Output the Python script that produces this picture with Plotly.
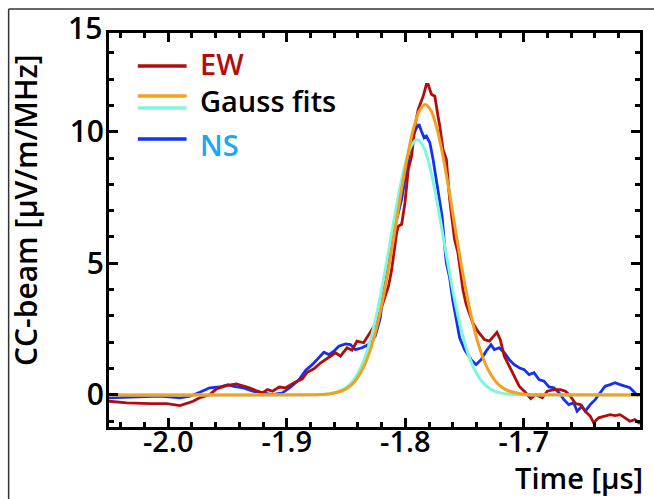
import plotly.graph_objects as go

# --- measured CC-beam traces (time in microseconds, amplitude in uV/m/MHz) ---
ns_time = [-2.0502, -2.0292, -2.0069, -1.9901, -1.9817, -1.9734, -1.9650, -1.9566,
           -1.9497, -1.9455, -1.9371, -1.9287, -1.9204, -1.9120, -1.9036, -1.8966,
           -1.8896, -1.8840, -1.8785, -1.8729, -1.8687, -1.8645, -1.8603, -1.8561,
           -1.8505, -1.8463, -1.8421, -1.8366, -1.8310, -1.8254, -1.8212, -1.8157,
           -1.8086, -1.8031, -1.7975, -1.7947, -1.7905, -1.7885, -1.7864, -1.7841,
           -1.7822, -1.7793, -1.7766, -1.7738, -1.7709, -1.7690, -1.7668, -1.7654,
           -1.7626, -1.7598, -1.7570, -1.7542, -1.7500, -1.7445, -1.7403, -1.7361,
           -1.7319, -1.7277, -1.7249, -1.7207, -1.7165, -1.7123, -1.7081, -1.7039,
           -1.6997, -1.6956, -1.6914, -1.6872, -1.6830, -1.6788, -1.6746, -1.6704,
           -1.6662, -1.6621, -1.6579, -1.6551, -1.6509, -1.6482, -1.6440, -1.6398,
           -1.6356, -1.6314, -1.6272, -1.6230, -1.6188, -1.6147, -1.6105, -1.6076,
           -1.6034]
ns_amp = [-0.11, -0.08, -0.05, -0.11, -0.05, 0.10, 0.27, 0.30,
          0.39, 0.33, 0.27, 0.14, 0.08, 0.01, 0.08, 0.30,
          0.58, 0.94, 1.15, 1.41, 1.62, 1.53, 1.66, 1.85,
          1.94, 1.91, 1.72, 1.79, 1.91, 2.23, 2.90, 4.85,
          6.41, 7.43, 8.95, 9.71, 10.15, 10.28, 10.02, 9.77,
          9.83, 9.58, 8.95, 8.19, 7.30, 6.79, 5.65, 5.02,
          4.45, 3.55, 2.86, 2.17, 1.72, 1.34, 1.15, 1.34,
          1.66, 1.91, 1.72, 1.79, 1.60, 1.34, 1.15, 1.03,
          0.96, 0.77, 0.84, 0.58, 0.52, 0.30, 0.27, 0.08,
          -0.18, -0.37, -0.30, -0.62, -0.43, -0.62, -0.37, -0.18,
          0.08, 0.33, 0.39, 0.46, 0.39, 0.33, 0.27, 0.14,
          -0.05]

ew_time = [-2.0502, -2.0348, -2.0152, -2.0013, -1.9901, -1.9845, -1.9790, -1.9734,
           -1.9650, -1.9594, -1.9510, -1.9426, -1.9371, -1.9315, -1.9259, -1.9204,
           -1.9162, -1.9120, -1.9064, -1.9008, -1.8938, -1.8869, -1.8827, -1.8771,
           -1.8714, -1.8645, -1.8589, -1.8547, -1.8492, -1.8450, -1.8408, -1.8352,
           -1.8296, -1.8254, -1.8198, -1.8142, -1.8115, -1.8073, -1.8059, -1.8031,
           -1.8003, -1.7975, -1.7947, -1.7919, -1.7891, -1.7849, -1.7822, -1.7807,
           -1.7780, -1.7751, -1.7724, -1.7709, -1.7682, -1.7654, -1.7626, -1.7598,
           -1.7585, -1.7556, -1.7514, -1.7487, -1.7431, -1.7389, -1.7332, -1.7291,
           -1.7249, -1.7227, -1.7199, -1.7165, -1.7123, -1.7081, -1.7039, -1.6984,
           -1.6942, -1.6900, -1.6844, -1.6802, -1.6746, -1.6691, -1.6649, -1.6607,
           -1.6565, -1.6523, -1.6482, -1.6440, -1.6411, -1.6369, -1.6327, -1.6272,
           -1.6230, -1.6188, -1.6147, -1.6105, -1.6063, -1.6021]
ew_amp = [-0.24, -0.30, -0.33, -0.33, -0.41, -0.33, -0.24, -0.11,
          0.01, 0.23, 0.35, 0.42, 0.35, 0.27, 0.16, 0.08,
          0.20, 0.14, 0.30, 0.27, 0.46, 0.61, 0.86, 0.99,
          1.22, 1.44, 1.60, 1.47, 1.79, 1.70, 2.04, 1.98,
          2.36, 2.67, 3.37, 4.13, 4.76, 6.16, 6.41, 6.48,
          7.30, 8.57, 9.07, 10.21, 10.85, 11.35, 11.80, 11.80,
          11.42, 11.35, 10.59, 10.21, 9.33, 8.95, 7.43, 6.29,
          5.91, 5.40, 4.00, 3.45, 2.74, 2.42, 2.10, 2.04,
          2.29, 2.38, 2.10, 1.47, 1.09, 0.71, 0.33, 0.08,
          -0.14, 0.01, -0.11, 0.14, 0.20, 0.20, 0.14, -0.05,
          -0.33, -0.37, -0.62, -0.81, -1.06, -0.87, -0.81, -0.75,
          -0.79, -0.75, -0.87, -1.00, -0.94, -1.09]

# --- Gaussian fit curves, sampled ---
ew_fit_time = [-2.05, -1.95, -1.8832, -1.8732, -1.8632, -1.8532, -1.8482, -1.8432,
               -1.8382, -1.8332, -1.8282, -1.8232, -1.8182, -1.8132, -1.8082, -1.8032,
               -1.7982, -1.7932, -1.7882, -1.7832, -1.7782, -1.7732, -1.7682, -1.7632,
               -1.7582, -1.7532, -1.7482, -1.7432, -1.7382, -1.7332, -1.7282, -1.7232,
               -1.7182, -1.7132, -1.7032, -1.6932, -1.6832, -1.60]
ew_fit_amp = [0.0, 0.0, 0.002, 0.01, 0.043, 0.157, 0.28, 0.48,
              0.80, 1.26, 1.90, 2.75, 3.81, 5.05, 6.41, 7.80,
              9.07, 10.11, 10.79, 11.03, 10.79, 10.11, 9.07, 7.80,
              6.41, 5.05, 3.81, 2.75, 1.90, 1.26, 0.80, 0.48,
              0.28, 0.157, 0.043, 0.01, 0.002, 0.0]

ns_fit_time = [-2.05, -1.95, -1.89, -1.88, -1.87, -1.86, -1.855, -1.85,
               -1.845, -1.84, -1.835, -1.83, -1.825, -1.82, -1.815, -1.81,
               -1.805, -1.80, -1.795, -1.79, -1.785, -1.78, -1.775, -1.77,
               -1.765, -1.76, -1.755, -1.75, -1.745, -1.74, -1.735, -1.73,
               -1.725, -1.72, -1.71, -1.70, -1.69, -1.60]
ns_fit_amp = [0.0, 0.0, 0.0, 0.003, 0.017, 0.077, 0.15, 0.28,
              0.49, 0.82, 1.31, 2.00, 2.89, 3.99, 5.23, 6.53,
              7.77, 8.79, 9.46, 9.70, 9.46, 8.79, 7.77, 6.53,
              5.23, 3.99, 2.89, 2.00, 1.31, 0.82, 0.49, 0.28,
              0.15, 0.077, 0.017, 0.003, 0.0, 0.0]

x_tick_vals = [-2.0, -1.9, -1.8, -1.7]
x_tick_text = ["-2.0", "-1.9", "-1.8", "-1.7"]
y_tick_vals = [0, 5, 10]
y_tick_text = ["0", "5", "10"]

EW_COLOR = "#B10D0D"
NS_COLOR = "#1430F0"
EW_FIT_COLOR = "#F4A01F"
NS_FIT_COLOR = "#80F6DD"
NS_TEXT_COLOR = "#1AA7F6"

FONT = "Open Sans"
TICK_SIZE = 30
X_TICK_SIZE = 29
LABEL_SIZE = 30
TIME_SIZE = 29
LEGEND_SIZE = 29

fig = go.Figure()
fig.add_trace(go.Scatter(x=ns_time, y=ns_amp, mode="lines", name="NS",
                         line=dict(color=NS_COLOR, width=2.8)))
fig.add_trace(go.Scatter(x=ew_time, y=ew_amp, mode="lines", name="EW",
                         line=dict(color=EW_COLOR, width=2.8)))
fig.add_trace(go.Scatter(x=ns_fit_time, y=ns_fit_amp, mode="lines", name="NS fit",
                         line=dict(color=NS_FIT_COLOR, width=3, shape="spline", smoothing=0.8)))
fig.add_trace(go.Scatter(x=ew_fit_time, y=ew_fit_amp, mode="lines", name="EW fit",
                         line=dict(color=EW_FIT_COLOR, width=3, shape="spline", smoothing=0.8)))

axis_common = dict(
    showline=True, linecolor="black", linewidth=3, mirror="ticks",
    ticks="inside", tickcolor="black", tickwidth=3, ticklen=9,
    showgrid=False, zeroline=False,
)

fig.update_xaxes(
    range=[-2.05, -1.602], tickmode="array", tickvals=x_tick_vals, ticktext=x_tick_text,
    ticklabelstandoff=-13,
    tickfont=dict(family=FONT, size=X_TICK_SIZE, color="black", weight=600),
    minor=dict(tickmode="linear", tick0=-2.0, dtick=0.02, ticks="inside",
               ticklen=5, tickwidth=3, tickcolor="black"),
    **axis_common,
)
fig.update_yaxes(
    range=[-1.22, 13.75], tickmode="array", tickvals=y_tick_vals, ticktext=y_tick_text,
    ticklabelstandoff=-4,
    tickfont=dict(family=FONT, size=TICK_SIZE, color="black", weight=600),
    minor=dict(tickmode="linear", tick0=0, dtick=1, ticks="inside",
               ticklen=5, tickwidth=3, tickcolor="black"),
    **axis_common,
)


def legend_label(text, y, color):
    return dict(text=text, x=0.1667, y=y, xref="paper", yref="paper",
                xanchor="left", yanchor="middle", valign="middle", height=30,
                showarrow=False,
                font=dict(family=FONT, size=LEGEND_SIZE, color=color, weight=600))


annotations = [
    # top value label of the amplitude axis
    dict(text="15", x=-0.0094, y=1.0127, xref="paper", yref="paper",
         xanchor="right", yanchor="middle", showarrow=False,
         font=dict(family=FONT, size=TICK_SIZE, color="black", weight=600)),
    # axis titles
    dict(text="Time [μs]", x=1.0, y=-0.1840, xref="paper", yref="paper",
         xanchor="right", yanchor="bottom", xshift=5, showarrow=False,
         font=dict(family=FONT, size=TIME_SIZE, color="black", weight=600)),
    dict(text="CC-beam [μV/m/MHz]", x=-0.1526, y=0.5508, xref="paper", yref="paper",
         xanchor="center", yanchor="middle", textangle=-90, xshift=-2, showarrow=False,
         font=dict(family=FONT, size=LABEL_SIZE, color="black", weight=600)),
    # legend labels
    legend_label("EW", 0.924, EW_COLOR),
    legend_label("Gauss fits", 0.830, "black"),
    legend_label("NS", 0.718, NS_TEXT_COLOR),
]

legend_rows = [(0.9162, EW_COLOR), (0.8401, EW_FIT_COLOR), (0.8096, NS_FIT_COLOR), (0.7310, NS_COLOR)]
shapes = []
for yy, col in legend_rows:
    shapes.append(dict(type="line", xref="paper", yref="paper", x0=0.0543, x1=0.1461,
                       y0=yy, y1=yy, line=dict(color=col, width=3.5)))

# thin outer frame along the left and top of the figure
shapes.append(dict(type="line", xref="paper", yref="paper", x0=-0.189, x1=-0.189,
                   y0=-0.19, y1=1.0609, line=dict(color="#333333", width=1.5)))
shapes.append(dict(type="line", xref="paper", yref="paper", x0=-0.189, x1=1.03,
                   y0=1.0609, y1=1.0609, line=dict(color="#333333", width=1.5)))

fig.update_layout(
    width=654, height=499,
    margin=dict(l=109, r=11, t=33, b=72),
    paper_bgcolor="white", plot_bgcolor="white",
    showlegend=False,
    annotations=annotations,
    shapes=shapes,
)

fig.write_html("out.html")
